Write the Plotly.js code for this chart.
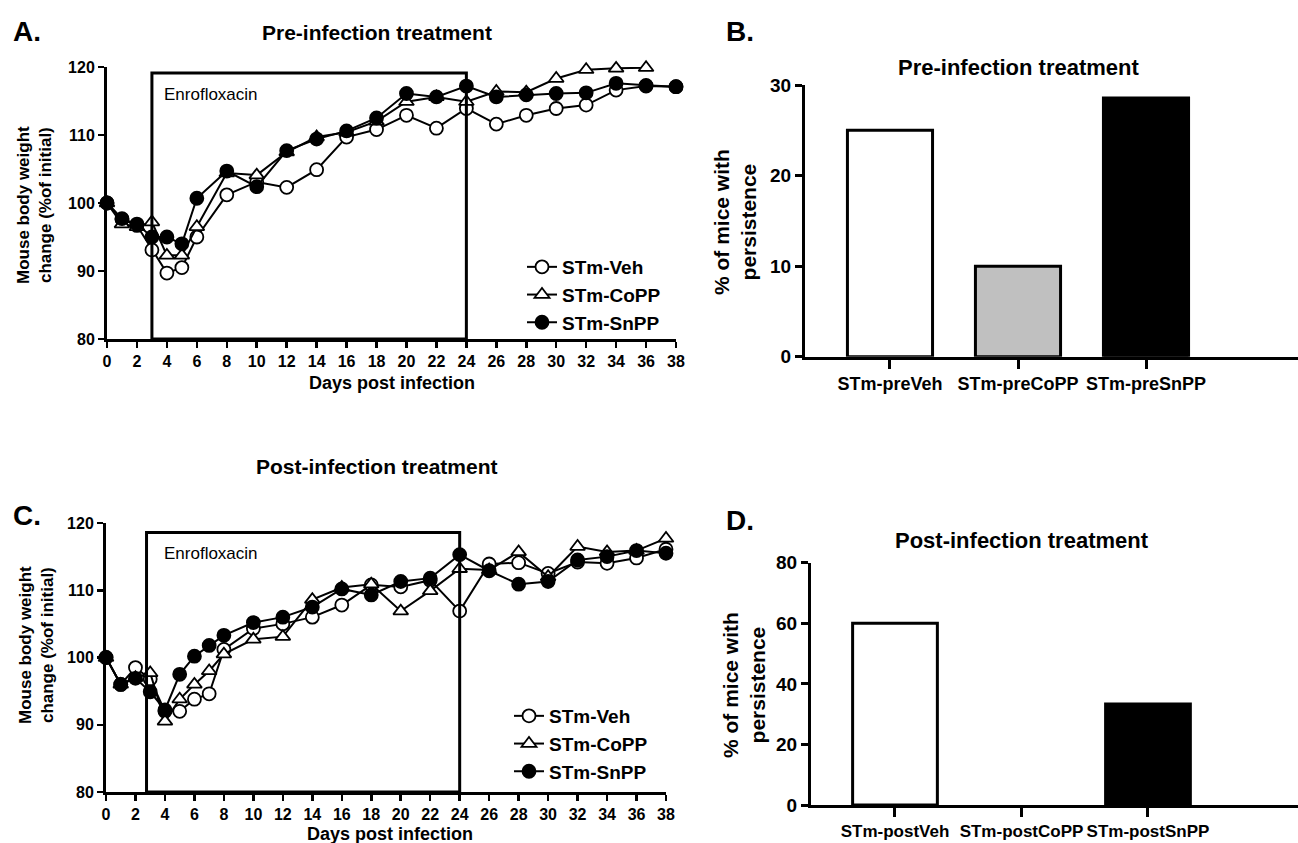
<!DOCTYPE html>
<html><head><meta charset="utf-8">
<script src="https://cdn.plot.ly/plotly-3.0.1.min.js"></script>
<style>html,body{margin:0;padding:0;background:#fff}#chart{width:1298px;height:843px}</style>
</head><body><div id="chart"></div>
<script>
// ---- Panel A: pre-infection treatment, body weight ----
const preDaysVeh  = [0,1,2,3,4,5,6,8,10,12,14,16,18,20,22,24,26,28,30,32,34,36,38];
const preVeh      = [100,97.6,96.7,93.1,89.7,90.5,95.0,101.2,103.1,102.3,104.9,109.7,110.8,112.9,111.0,113.9,111.6,112.9,113.9,114.4,116.6,117.2,117.1];
const preDaysCoPP = [0,1,2,3,4,5,6,8,10,12,14,16,18,20,22,24,26,28,30,32,34,36];
const preCoPP     = [100,96.9,96.5,97.2,92.3,92.3,96.5,104.4,104.1,107.5,109.7,110.4,112.0,114.9,115.6,114.9,116.4,116.3,118.3,119.6,119.8,119.9];
const preDaysSnPP = [0,1,2,3,4,5,6,8,10,12,14,16,18,20,22,24,26,28,30,32,34,36,38];
const preSnPP     = [100,97.7,96.9,95.0,95.0,94.0,100.7,104.7,102.4,107.7,109.4,110.6,112.5,116.1,115.6,117.2,115.6,115.9,116.1,116.2,117.6,117.3,117.1];

// ---- Panel C: post-infection treatment, body weight ----
const postDays    = [0,1,2,3,4,5,6,7,8,10,12,14,16,18,20,22,24,26,28,30,32,34,36,38];
const postVeh     = [100,96.0,98.5,96.8,92.0,92.0,93.8,94.6,101.2,104.3,105.0,106.0,107.8,110.8,110.5,111.5,106.9,113.9,114.1,112.5,114.2,114.0,114.8,116.1];
const postCoPP    = [100,96.0,97.0,97.7,90.5,93.8,96.0,98.0,100.5,102.7,103.1,108.6,110.4,110.9,106.9,109.9,113.2,113.0,115.7,112.0,116.5,115.7,115.9,117.7];
const postSnPP    = [100,96.0,96.9,94.9,92.2,97.5,100.2,101.8,103.3,105.2,106.0,107.5,110.2,109.3,111.3,111.8,115.3,112.9,110.9,111.3,114.5,115.0,115.9,115.5];

const seriesNames = ['STm-Veh','STm-CoPP','STm-SnPP'];

// ---- Panel B / D: persistence ----
const preGroups   = ['STm-preVeh','STm-preCoPP','STm-preSnPP'];
const prePersist  = [25, 10, 28.57];
const postGroups  = ['STm-postVeh','STm-postCoPP','STm-postSnPP'];
const postPersist = [60, 0, 33.33];
const barColors   = ['#ffffff','#c0c0c0','#000000'];

const W = 1298, H = 843;
const px = x => x / W, py = y => 1 - y / H;
const FONT = 'Liberation Sans, Arial, Helvetica, sans-serif';

const markerStyles = [
  {symbol:'circle', size:13, color:'#ffffff', line:{color:'#000', width:1.8}},
  {symbol:'triangle-up', size:13, color:'#ffffff', line:{color:'#000', width:1.8}},
  {symbol:'circle', size:13, color:'#000000', line:{color:'#000', width:1.8}}
];

function lineTrace(x, y, i, xa, ya, legend) {
  return {
    type:'scatter', mode:'lines+markers', x:x, y:y, name:seriesNames[i],
    xaxis:xa, yaxis:ya, legend:legend, cliponaxis:false,
    line:{color:'#000', width:2}, marker:markerStyles[i]
  };
}
function barTrace(cats, vals, xa, ya, w) {
  return {type:'bar', x:cats, y:vals, xaxis:xa, yaxis:ya, width:w, showlegend:false,
    marker:{color:barColors, line:{color:'#000', width:vals.map(v => v > 0 ? 3 : 0)}}};
}

const traces = [
  lineTrace(preDaysVeh, preVeh, 0, 'x', 'y', 'legend'),
  lineTrace(preDaysCoPP, preCoPP, 1, 'x', 'y', 'legend'),
  lineTrace(preDaysSnPP, preSnPP, 2, 'x', 'y', 'legend'),
  lineTrace(postDays, postVeh, 0, 'x3', 'y3', 'legend2'),
  lineTrace(postDays, postCoPP, 1, 'x3', 'y3', 'legend2'),
  lineTrace(postDays, postSnPP, 2, 'x3', 'y3', 'legend2'),
  barTrace(preGroups, prePersist, 'x2', 'y2', 0.665),
  barTrace(postGroups, postPersist, 'x4', 'y4', 0.67)
];

const tickFont = {family:FONT, size:16, color:'#000', weight:700};
const barTickFont = {family:FONT, size:19, color:'#000', weight:700};

function lineX(domain, anchor) {
  return {domain:domain, anchor:anchor, range:[0,38], tickvals:[0,2,4,6,8,10,12,14,16,18,20,22,24,26,28,30,32,34,36,38],
    showline:true, linewidth:3, linecolor:'#000', ticks:'outside', ticklen:6, tickwidth:2.5, tickcolor:'#000',
    showgrid:false, zeroline:false, tickfont:tickFont, tickangle:0, fixedrange:true};
}
function lineY(domain, anchor) {
  return {domain:domain, anchor:anchor, range:[80,120], tickvals:[80,90,100,110,120],
    showline:true, linewidth:3, linecolor:'#000', ticks:'outside', ticklen:6, tickwidth:2.5, tickcolor:'#000',
    showgrid:false, zeroline:false, tickfont:tickFont, fixedrange:true};
}
function barX(domain, anchor, range, size) {
  return {domain:domain, anchor:anchor, type:'category', range:range, tickangle:0,
    showline:true, linewidth:3, linecolor:'#000', ticks:'outside', ticklen:9, tickwidth:3, tickcolor:'#000',
    showgrid:false, zeroline:false, tickfont:{family:FONT, size:size, color:'#000', weight:700}, fixedrange:true};
}
function barY(domain, anchor, range, dtick) {
  return {domain:domain, anchor:anchor, range:range, dtick:dtick, tick0:0,
    showline:true, linewidth:3, linecolor:'#000', ticks:'outside', ticklen:7, tickwidth:3, tickcolor:'#000',
    showgrid:false, zeroline:false, tickfont:barTickFont, fixedrange:true};
}

function ann(text, x, y, size, opts) {
  return Object.assign({text:text, x:px(x), y:py(y), xref:'paper', yref:'paper', showarrow:false,
    xanchor:'center', yanchor:'middle', font:{family:FONT, size:size, color:'#000', weight:700}}, opts || {});
}

const layout = {
  width:W, height:H, margin:{l:0,r:0,t:0,b:0}, paper_bgcolor:'#fff', plot_bgcolor:'rgba(0,0,0,0)',
  font:{family:FONT, color:'#000'}, showlegend:true, bargap:0,
  xaxis: lineX([px(107), px(676)], 'y'),
  yaxis: lineY([py(339), py(67)], 'x'),
  xaxis3: lineX([px(106), px(666)], 'y3'),
  yaxis3: lineY([py(792), py(523)], 'x3'),
  xaxis2: barX([px(805), 1], 'y2', [-0.664, 3.1875], 18),
  yaxis2: barY([py(356.7), py(85)], 'x2', [0,30], 10),
  xaxis4: barX([px(811), 1], 'y4', [-0.664, 3.186], 17),
  yaxis4: barY([py(805), py(562.7)], 'x4', [0,80], 20),
  legend: {x:px(522), y:py(248), xanchor:'left', yanchor:'top', bgcolor:'rgba(0,0,0,0)',
    font:{family:FONT, size:19, color:'#000', weight:700}, tracegroupgap:0, itemwidth:30},
  legend2: {x:px(509), y:py(697), xanchor:'left', yanchor:'top', bgcolor:'rgba(0,0,0,0)',
    font:{family:FONT, size:19, color:'#000', weight:700}, tracegroupgap:0, itemwidth:30},
  shapes: [
    {type:'rect', xref:'x', yref:'y', x0:3, x1:24, y0:80, y1:119.1, line:{color:'#000', width:3}, layer:'above'},
    {type:'rect', xref:'x3', yref:'y3', x0:2.75, x1:24, y0:80, y1:118.6, line:{color:'#000', width:3}, layer:'above'}
  ],
  annotations: [
    ann('A.', 27, 32, 28),
    ann('B.', 740, 32, 28),
    ann('C.', 27, 515, 28),
    ann('D.', 740, 520, 28),
    ann('Pre-infection treatment', 377, 33, 21),
    ann('Post-infection treatment', 377, 466, 21),
    ann('Pre-infection treatment', 1018, 68, 22),
    ann('Post-infection treatment', 1022, 540, 22),
    ann('Days post infection', 392, 383, 18),
    ann('Days post infection', 390, 834, 18),
    ann('Mouse body weight<br>change (%of initial)', 34, 205, 17, {textangle:-90}),
    ann('Mouse body weight<br>change (%of initial)', 36, 645, 17, {textangle:-90}),
    ann('% of mice with<br>persistence', 735, 222, 21, {textangle:-90}),
    ann('% of mice with<br>persistence', 744, 685, 21, {textangle:-90}),
    ann('Enrofloxacin', 162, 95, 17, {xanchor:'left', font:{family:FONT, size:17, color:'#000', weight:400}}),
    ann('Enrofloxacin', 162, 553, 17, {xanchor:'left', font:{family:FONT, size:17, color:'#000', weight:400}})
  ]
};

Plotly.newPlot('chart', traces, layout, {displayModeBar:false, staticPlot:true});
</script>
</body></html>
